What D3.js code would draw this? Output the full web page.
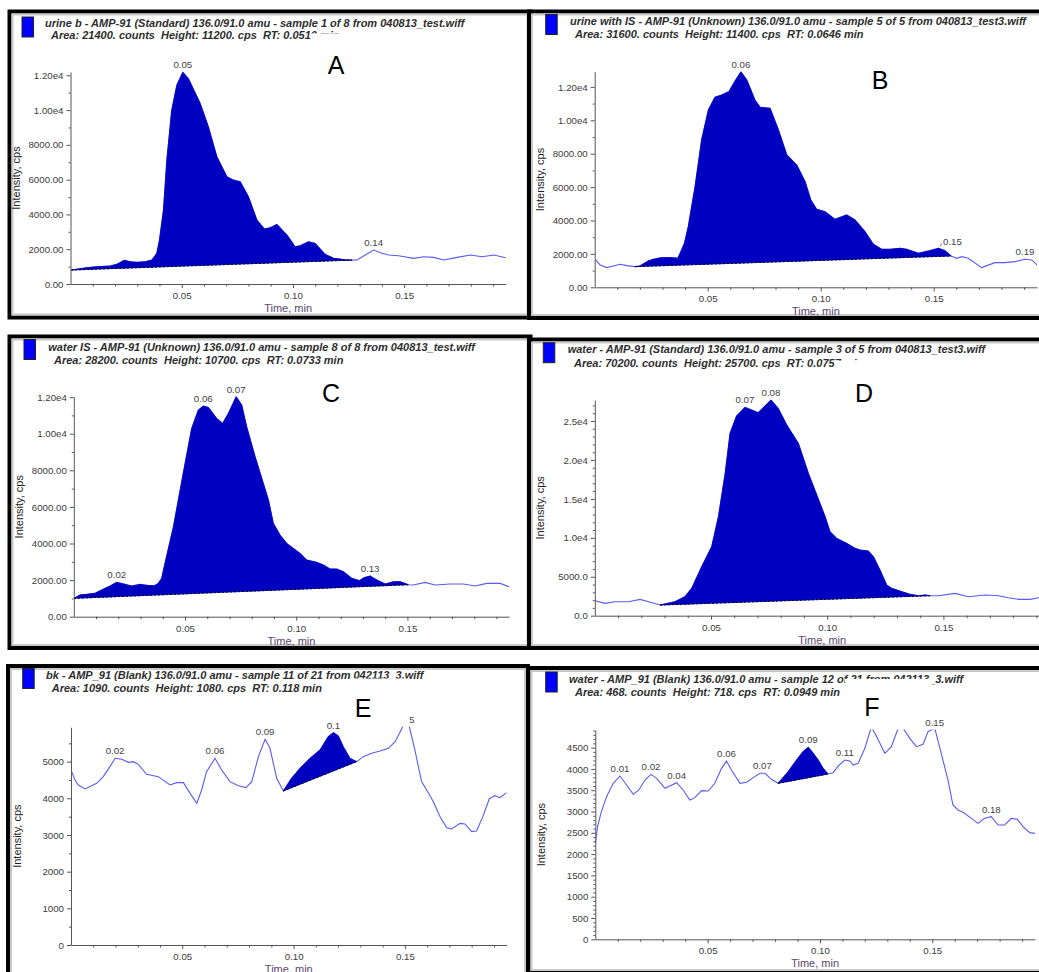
<!DOCTYPE html>
<html>
<head>
<meta charset="utf-8">
<script src="https://cdn.jsdelivr.net/npm/d3@7"></script>
<style>
  body { margin: 0; background: #fff; }
  svg { display: block; }
  text { font-family: "Liberation Sans", Arial, sans-serif; }
</style>
</head>
<body>
<svg id="fig" width="1039" height="972"></svg>
<script>
// ---- Chromatogram traces: [time (min), intensity (cps)] ----
const traceA = [[0.0003,804],[0.0073,938],[0.0118,995],[0.0178,1033],[0.0208,1129],[0.0241,1359],[0.0268,1282],[0.0298,1244],[0.0336,1282],[0.0366,1378],[0.0388,1761],[0.0400,2526],[0.0418,4249],[0.0433,7120],[0.0455,9991],[0.0478,11426],[0.0505,12180],[0.0530,11809],[0.0583,10374],[0.0620,9034],[0.0658,7311],[0.0703,6163],[0.0733,5972],[0.0763,5876],[0.0800,5015],[0.0838,3675],[0.0872,3158],[0.0898,3235],[0.0928,3426],[0.0973,2814],[0.1010,2144],[0.1033,2201],[0.1070,2431],[0.1100,2335],[0.1145,1703],[0.1183,1474],[0.1243,1378],[0.1265,1375],[0.1288,1378],[0.1325,1665],[0.1363,1952],[0.1393,1799],[0.1430,1665],[0.1475,1627],[0.1543,1474],[0.1588,1570],[0.1633,1531],[0.1678,1378],[0.1738,1531],[0.1798,1665],[0.1850,1570],[0.1903,1665],[0.1957,1512]];
const traceB = [[0.0004,1637],[0.0024,1337],[0.0053,1178],[0.0083,1277],[0.0112,1377],[0.0142,1297],[0.0178,1238],[0.0200,1277],[0.0237,1577],[0.0260,1677],[0.0296,1776],[0.0341,1776],[0.0367,1737],[0.0378,2036],[0.0397,2635],[0.0414,3633],[0.0444,6028],[0.0473,8822],[0.0503,10619],[0.0532,11377],[0.0562,11517],[0.0594,11717],[0.0621,12355],[0.0647,12900],[0.0673,12415],[0.0709,11218],[0.0732,10778],[0.0776,10718],[0.0813,9421],[0.0850,7924],[0.0894,7325],[0.0931,6327],[0.0956,5230],[0.0982,4671],[0.1019,4531],[0.1063,4072],[0.1115,4332],[0.1152,4032],[0.1196,3333],[0.1233,2575],[0.1270,2275],[0.1307,2275],[0.1351,2335],[0.1380,2275],[0.1432,2036],[0.1484,2196],[0.1521,2335],[0.1550,2196],[0.1577,1876],[0.1602,1737],[0.1624,1836],[0.1653,1737],[0.1712,1178],[0.1771,1477],[0.1816,1477],[0.1860,1537],[0.1904,1677],[0.1934,1637],[0.1957,1337]];
const traceC = [[0.0001,1002],[0.0028,1184],[0.0058,1220],[0.0095,1275],[0.0125,1457],[0.0163,1675],[0.0193,1876],[0.0230,1766],[0.0260,1675],[0.0298,1766],[0.0328,1712],[0.0362,1694],[0.0380,1821],[0.0395,2094],[0.0410,2914],[0.0448,4917],[0.0492,7830],[0.0530,10289],[0.0560,11290],[0.0582,11509],[0.0605,11436],[0.0642,10835],[0.0669,10562],[0.0695,11108],[0.0730,12019],[0.0755,11563],[0.0777,10380],[0.0815,8741],[0.0852,7284],[0.0875,6374],[0.0897,5099],[0.0927,4462],[0.0957,4006],[0.0987,3733],[0.1017,3460],[0.1047,3096],[0.1092,2968],[0.1122,2823],[0.1152,2604],[0.1182,2604],[0.1212,2458],[0.1250,2094],[0.1284,1967],[0.1305,2131],[0.1332,2222],[0.1362,2003],[0.1400,1785],[0.1437,1912],[0.1467,1912],[0.1504,1748],[0.1527,1730],[0.1579,1876],[0.1624,1730],[0.1692,1785],[0.1752,1785],[0.1804,1675],[0.1857,1821],[0.1917,1821],[0.1957,1639]];
const traceD = [[0.0001,1926],[0.0044,1584],[0.0087,1798],[0.0145,1798],[0.0195,2097],[0.0231,1798],[0.0281,1370],[0.0300,1498],[0.0345,1798],[0.0388,2440],[0.0417,3510],[0.0460,6292],[0.0503,8860],[0.0532,12712],[0.0561,18276],[0.0582,23412],[0.0610,25637],[0.0646,26750],[0.0675,26408],[0.0703,26065],[0.0732,26921],[0.0758,27692],[0.0789,26622],[0.0826,24482],[0.0876,22128],[0.0919,18276],[0.0955,15494],[0.0991,12712],[0.1012,10786],[0.1041,9930],[0.1084,9288],[0.1120,8646],[0.1141,8432],[0.1177,8303],[0.1199,7576],[0.1227,5864],[0.1256,3938],[0.1277,3510],[0.1321,3082],[0.1356,2739],[0.1392,2568],[0.1421,2654],[0.1443,2568],[0.1478,2568],[0.1550,2868],[0.1608,2440],[0.1679,2654],[0.1737,2568],[0.1780,2311],[0.1823,2097],[0.1873,2097],[0.1909,2311],[0.1957,2200]];
const traceE = [[0.0003,4727],[0.0018,4500],[0.0033,4364],[0.0063,4255],[0.0115,4409],[0.0145,4591],[0.0175,4864],[0.0198,5091],[0.0228,5064],[0.0258,4982],[0.0280,5000],[0.0302,4927],[0.0340,4655],[0.0392,4591],[0.0445,4364],[0.0475,4427],[0.0505,4427],[0.0535,4136],[0.0565,3864],[0.0587,4227],[0.0609,4727],[0.0647,5091],[0.0677,4773],[0.0714,4455],[0.0752,4345],[0.0786,4291],[0.0812,4455],[0.0842,5136],[0.0872,5609],[0.0894,5364],[0.0924,4545],[0.0954,4200],[0.0991,4545],[0.1029,4818],[0.1074,5091],[0.1119,5318],[0.1156,5682],[0.1179,5791],[0.1201,5700],[0.1223,5409],[0.1253,5091],[0.1283,5000],[0.1313,5136],[0.1351,5227],[0.1388,5291],[0.1426,5364],[0.1456,5545],[0.1486,5900],[0.1500,6100],[0.1520,5950],[0.1545,5318],[0.1575,4455],[0.1598,4227],[0.1628,3909],[0.1658,3500],[0.1688,3200],[0.1710,3164],[0.1748,3318],[0.1770,3300],[0.1800,3091],[0.1822,3109],[0.1852,3527],[0.1879,3982],[0.1904,4073],[0.1927,4018],[0.1957,4155]];
const traceF = [[0.0000,2254],[0.0010,2645],[0.0025,2958],[0.0050,3349],[0.0080,3662],[0.0110,3834],[0.0139,3623],[0.0169,3404],[0.0194,3506],[0.0221,3740],[0.0248,3873],[0.0273,3780],[0.0310,3545],[0.0362,3678],[0.0391,3506],[0.0421,3271],[0.0443,3326],[0.0473,3490],[0.0503,3482],[0.0532,3662],[0.0562,4014],[0.0584,4186],[0.0606,3975],[0.0644,3662],[0.0673,3686],[0.0710,3819],[0.0733,3897],[0.0755,3897],[0.0784,3756],[0.0814,3662],[0.0859,3936],[0.0896,4210],[0.0925,4405],[0.0948,4507],[0.0970,4366],[0.0992,4210],[0.1014,4014],[0.1036,3881],[0.1059,3912],[0.1081,4069],[0.1111,4210],[0.1133,4186],[0.1148,4092],[0.1170,4131],[0.1200,4484],[0.1229,4990],[0.1251,4773],[0.1289,4366],[0.1318,4523],[0.1348,4950],[0.1370,4960],[0.1400,4718],[0.1430,4523],[0.1459,4578],[0.1481,4875],[0.1511,4960],[0.1540,4366],[0.1570,3740],[0.1592,3154],[0.1615,3036],[0.1644,2958],[0.1674,2840],[0.1704,2723],[0.1733,2840],[0.1763,2880],[0.1793,2684],[0.1822,2684],[0.1852,2840],[0.1879,2817],[0.1904,2645],[0.1934,2504],[0.1957,2488]];

// ---- Integrated peak windows: [start, end] time (min) ----
const windowA = [0.0003, 0.1265];
const windowB = [0.0178, 0.1577];
const windowC = [0.0001, 0.1504];
const windowD = [0.0281, 0.1443];
const windowE = [0.0954, 0.1283];
const windowF = [0.0814, 0.1036];

// ---- Apex annotations: [apex time, label] ----
const apexA = [[0.0505,"0.05"],[0.1363,"0.14"]];
const apexB = [[0.0647,"0.06"],[0.1521,"0.15"],[0.1904,"0.19"]];
const apexC = [[0.0193,"0.02"],[0.0582,"0.06"],[0.0730,"0.07"],[0.1332,"0.13"]];
const apexD = [[0.0646,"0.07"],[0.0758,"0.08"]];
const apexE = [[0.0198,"0.02"],[0.0647,"0.06"],[0.0872,"0.09"],[0.1179,"0.1"],[0.1500,"0.15"]];
const apexF = [[0.0110,"0.01"],[0.0248,"0.02"],[0.0362,"0.04"],[0.0584,"0.06"],[0.0744,"0.07"],[0.0948,"0.09"],[0.1111,"0.11"],[0.1511,"0.15"],[0.1763,"0.18"]];

// ---- Sample headers ----
const titleA = ["urine b - AMP-91 (Standard) 136.0/91.0 amu - sample 1 of 8 from 040813_test.wiff", "Area: 21400. counts  Height: 11200. cps  RT: 0.0510 min"];
const titleB = ["urine with IS - AMP-91 (Unknown) 136.0/91.0 amu - sample 5 of 5 from 040813_test3.wiff", "Area: 31600. counts  Height: 11400. cps  RT: 0.0646 min"];
const titleC = ["water IS - AMP-91 (Unknown) 136.0/91.0 amu - sample 8 of 8 from 040813_test.wiff", "Area: 28200. counts  Height: 10700. cps  RT: 0.0733 min"];
const titleD = ["water - AMP-91 (Standard) 136.0/91.0 amu - sample 3 of 5 from 040813_test3.wiff", "Area: 70200. counts  Height: 25700. cps  RT: 0.0757 min"];
const titleE = ["bk - AMP_91 (Blank) 136.0/91.0 amu - sample 11 of 21 from 042113_3.wiff", "Area: 1090. counts  Height: 1080. cps  RT: 0.118 min"];
const titleF = ["water - AMP_91 (Blank) 136.0/91.0 amu - sample 12 of 21 from 042113_3.wiff", "Area: 468. counts  Height: 718. cps  RT: 0.0949 min"];

// ---- Axis ticks ----
const xTicks = [0.05, 0.10, 0.15];
const xTickLabels = ["0.05", "0.10", "0.15"];
const xMinorStep = 0.01;
const timeMax = 0.1957;
const yTicksABC = [0, 2000, 4000, 6000, 8000, 10000, 12000];
const yLabelsABC = ["0.00", "2000.00", "4000.00", "6000.00", "8000.00", "1.00e4", "1.20e4"];
const yTicksD = [0, 5000, 10000, 15000, 20000, 25000];
const yLabelsD = ["0.0", "5000.0", "1.0e4", "1.5e4", "2.0e4", "2.5e4"];
const yTicksE = [0, 1000, 2000, 3000, 4000, 5000];
const yLabelsE = ["0", "1000", "2000", "3000", "4000", "5000"];
const yTicksF = [0, 500, 1000, 1500, 2000, 2500, 3000, 3500, 4000, 4500];
const yLabelsF = ["0", "500", "1000", "1500", "2000", "2500", "3000", "3500", "4000", "4500"];
// Top of each intensity axis (cps)
const yTopValues = {A: 12190, B: 12910, C: 12022, D: 27700, E: 5937, F: 4914};

// ---- Panel layout ----
// mask: white text box behind the panel letter; either fixed corners, or starting
// right after a given piece of a header line.
const panels = [
  {id: "A", trace: traceA, win: windowA, apex: apexA, title: titleA, yTicks: yTicksABC, yLabels: yLabelsABC, yMinor: 1000,
   frame: [7.5, 9.5, 532.5, 319.5], plot: {x: 70.5, w: 435.3, y: 284, h: 212}, legend: [22, 17], text: [45, 26.5, 51, 38.8],
   letter: [336, 65], mask: {line: 1, after: "RT: 0.051", y1: 33.4, w: 75, y2: 52}},
  {id: "B", trace: traceB, win: windowB, apex: apexB, title: titleB, yTicks: yTicksABC, yLabels: yLabelsABC, yMinor: 1000,
   frame: [527, 9.5, 1050, 320], plot: {x: 594.7, w: 442.3, y: 287.3, h: 215.6}, legend: [545.7, 14.5], text: [570, 25, 575, 38],
   letter: [880, 80]},
  {id: "C", trace: traceC, win: windowC, apex: apexC, title: titleC, yTicks: yTicksABC, yLabels: yLabelsABC, yMinor: 1000,
   frame: [7.5, 334.5, 532.5, 650], plot: {x: 73.8, w: 435.3, y: 616.7, h: 220}, legend: [24, 339.5], text: [48.3, 350.5, 54, 364],
   letter: [331, 393]},
  {id: "D", trace: traceD, win: windowD, apex: apexD, title: titleD, yTicks: yTicksD, yLabels: yLabelsD, yMinor: 1000,
   frame: [527, 337.5, 1050, 650], plot: {x: 594.8, w: 454.8, y: 615.7, h: 215.7}, legend: [543.3, 342.7], text: [567.7, 353, 574, 366.5],
   letter: [864, 393], mask: {line: 1, after: "RT: 0.075", y1: 360.6, w: 75, y2: 380}},
  {id: "E", trace: traceE, win: windowE, apex: apexE, title: titleE, yTicks: yTicksE, yLabels: yLabelsE, yMinor: 500,
   frame: [6, 664, 530, 985], plot: {x: 71, w: 435.6, y: 945, h: 217.7}, legend: [22.7, 668.5], text: [46, 679, 51.7, 692],
   letter: [363, 708], mask: {box: [352, 678.5, 409.5, 723.5]}},
  {id: "F", trace: traceF, win: windowF, apex: apexF, title: titleF, yTicks: yTicksF, yLabels: yLabelsF, yMinor: 100,
   frame: [526.5, 666, 1050, 975], plot: {x: 595.3, w: 439.6, y: 939.3, h: 209.3}, legend: [545.7, 672], text: [569, 683, 575, 696],
   letter: [872, 707], mask: {box: [845, 679, 932, 718]}}
];
// Apex labels that sit off to the side with a short leader
const sideLabels = {"B-0.15": true};

const FILL = "#0000c0", TRACE = "#5a5af5", LEGEND = "#0000ff", AXIS = "#555";
const LABEL_SIZE = 9.7;
const svg = d3.select("#fig");

function valueAt(trace, t) {
  let best = trace[0];
  for (const d of trace) if (Math.abs(d[0] - t) < Math.abs(best[0] - t)) best = d;
  return best[1];
}

// Keep the double gaps between header fields
const keepGaps = s => s.replace(/  /g, " \u00a0");

function drawPanel(p) {
  const g = svg.append("g").attr("class", "panel-" + p.id);
  const [fx1, fy1, fx2, fy2] = p.frame;

  // Window frame: black outer edge with a light grey inner bevel
  g.append("rect").attr("x", fx1 + 2).attr("y", fy1 + 2)
    .attr("width", fx2 - fx1 - 4).attr("height", fy2 - fy1 - 4)
    .attr("fill", "none").attr("stroke", "#000").attr("stroke-width", 4);
  g.append("rect").attr("x", fx1 + 5).attr("y", fy1 + 5)
    .attr("width", fx2 - fx1 - 10).attr("height", fy2 - fy1 - 10)
    .attr("fill", "none").attr("stroke", "#c9c9c9").attr("stroke-width", 2);

  // Header: legend swatch and two lines of sample info
  g.append("rect").attr("x", p.legend[0]).attr("y", p.legend[1])
    .attr("width", 11.5).attr("height", 20)
    .attr("fill", LEGEND).attr("stroke", "#222").attr("stroke-width", 1);
  const head = g.append("g").attr("font-size", 11).attr("font-style", "italic")
    .attr("font-weight", "bold").attr("fill", "#2e2e2e");
  const lines = [
    head.append("text").attr("x", p.text[0]).attr("y", p.text[1]).text(keepGaps(p.title[0])),
    head.append("text").attr("x", p.text[2]).attr("y", p.text[3]).text(keepGaps(p.title[1]))
  ];

  // Scales
  const x = d3.scaleLinear().domain([0, timeMax]).range([p.plot.x, p.plot.x + p.plot.w]);
  const y = d3.scaleLinear().domain([0, yTopValues[p.id]]).range([p.plot.y, p.plot.y - p.plot.h]);

  // Clip for the trace
  const clipId = "clip-" + p.id;
  svg.append("clipPath").attr("id", clipId).append("rect")
    .attr("x", p.plot.x).attr("y", p.plot.y - p.plot.h - 0.5)
    .attr("width", p.plot.w).attr("height", p.plot.h + 0.5);

  const plot = g.append("g").attr("clip-path", `url(#${clipId})`);

  // Trace line
  const line = d3.line().x(d => x(d[0])).y(d => y(d[1]));
  plot.append("path").datum(p.trace).attr("d", line)
    .attr("fill", "none").attr("stroke", TRACE).attr("stroke-width", 1.1);

  // Integrated peak area over a straight baseline
  const [ws, we] = p.win;
  const vs = valueAt(p.trace, ws), ve = valueAt(p.trace, we);
  const base = d3.scaleLinear().domain([ws, we]).range([vs, ve]);
  const seg = p.trace.filter(d => d[0] >= ws - 1e-9 && d[0] <= we + 1e-9);
  const area = d3.area().x(d => x(d[0])).y0(d => y(base(d[0]))).y1(d => y(d[1]));
  plot.append("path").datum(seg).attr("d", area)
    .attr("fill", FILL).attr("stroke", FILL).attr("stroke-width", 0.8).attr("stroke-linejoin", "round");
  plot.append("path").datum([[ws, vs], [we, ve]]).attr("d", line)
    .attr("fill", "none").attr("stroke", "#000").attr("stroke-width", 1).attr("stroke-dasharray", "2,2");

  // Axes
  const minorX = d3.range(xMinorStep, timeMax, xMinorStep).filter(t => !xTicks.some(m => Math.abs(m - t) < 1e-6));
  const xAxisG = g.append("g").attr("transform", `translate(0,${p.plot.y})`);
  xAxisG.call(d3.axisBottom(x).tickValues(xTicks).tickFormat((d, i) => xTickLabels[i]).tickSize(4).tickSizeOuter(0).tickPadding(4));
  xAxisG.append("g").call(d3.axisBottom(x).tickValues(minorX).tickFormat("").tickSize(2.5))
    .select(".domain").remove();

  const yMax = yTopValues[p.id];
  const minorY = d3.range(p.yMinor, yMax, p.yMinor).filter(v => !p.yTicks.includes(v));
  const yAxisG = g.append("g").attr("transform", `translate(${p.plot.x},0)`);
  yAxisG.call(d3.axisLeft(y).tickValues(p.yTicks).tickFormat((d, i) => p.yLabels[i]).tickSize(4).tickSizeOuter(0).tickPadding(3));
  yAxisG.append("g").call(d3.axisLeft(y).tickValues(minorY).tickFormat("").tickSize(2))
    .select(".domain").remove();

  g.selectAll(".domain, .tick line").attr("stroke", AXIS);
  g.selectAll(".tick text").attr("font-family", "Liberation Sans, Arial, sans-serif")
    .attr("font-size", LABEL_SIZE).attr("fill", "#3c3c3c");

  // Axis titles
  g.append("text").attr("x", p.plot.x + p.plot.w / 2).attr("y", p.plot.y + 28)
    .attr("text-anchor", "middle").attr("font-size", 11).attr("fill", "#5b4670").text("Time, min");
  g.append("text")
    .attr("transform", `translate(${p.plot.x - 50.5},${p.plot.y - p.plot.h / 2}) rotate(-90)`)
    .attr("text-anchor", "middle").attr("font-size", 11).attr("fill", "#222").text("Intensity, cps");

  // Apex labels
  p.apex.forEach(([t, lab]) => {
    const v = valueAt(p.trace, t);
    const px = x(t), py = y(Math.min(v, yMax)) - 4;
    if (sideLabels[p.id + "-" + lab]) {
      g.append("line").attr("x1", px + 1.5).attr("y1", py + 2).attr("x2", px + 3.5).attr("y2", py - 1)
        .attr("stroke", "#555").attr("stroke-width", 0.8);
      g.append("text").attr("x", px + 4.5).attr("y", py + 1).attr("font-size", LABEL_SIZE).attr("fill", "#444").text(lab);
    } else {
      g.append("text").attr("x", px).attr("y", py).attr("text-anchor", "middle")
        .attr("font-size", LABEL_SIZE).attr("fill", "#444").text(lab);
    }
  });

  // Panel letter on its own white text box
  if (p.mask) {
    let box = p.mask.box;
    if (!box) {
      const node = lines[p.mask.line].node();
      const full = p.title[p.mask.line];
      const n = full.indexOf(p.mask.after) + p.mask.after.length;
      const mx = +node.getAttribute("x") + node.getSubStringLength(0, n);
      box = [mx, p.mask.y1, mx + p.mask.w, p.mask.y2];
    }
    g.append("rect").attr("x", box[0]).attr("y", box[1])
      .attr("width", box[2] - box[0]).attr("height", box[3] - box[1]).attr("fill", "#fff");
  }
  g.append("text").attr("x", p.letter[0]).attr("y", p.letter[1] + 9)
    .attr("text-anchor", "middle").attr("font-family", "Open Sans, Liberation Sans, sans-serif")
    .attr("font-size", 25).attr("fill", "#000").text(p.id);
}

panels.forEach(drawPanel);
</script>
</body>
</html>
